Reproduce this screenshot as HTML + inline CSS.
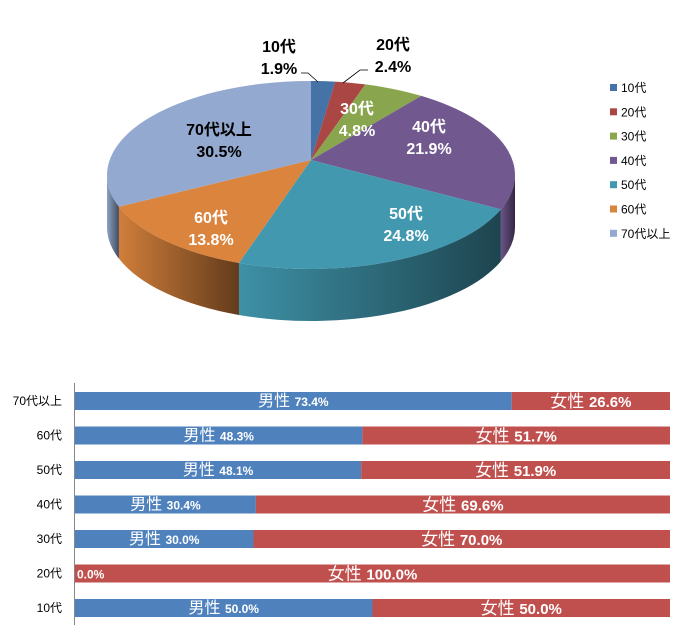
<!DOCTYPE html>
<html><head><meta charset="utf-8">
<style>
body{margin:0;background:#fff;width:688px;height:640px;overflow:hidden;font-family:"Liberation Sans","Noto Sans CJK JP",sans-serif;}
svg{position:absolute;left:0;top:0}
</style></head>
<body>
<svg id="chart" width="688" height="640" viewBox="0 0 688 640" xmlns="http://www.w3.org/2000/svg">
<defs>
<linearGradient id="sideShade" x1="0" y1="0" x2="1" y2="0">
<stop offset="0" stop-color="#000" stop-opacity="0.05"/>
<stop offset="0.5" stop-color="#000" stop-opacity="0.3"/>
<stop offset="1" stop-color="#000" stop-opacity="0.55"/>
</linearGradient>
</defs>
<g id="pie"></g>
<g id="legend"></g>
<g id="bars"></g>
</svg>
<script>
const pieCategories = ["10代","20代","30代","40代","50代","60代","70代以上"];
const pieValues = [1.9, 2.4, 4.8, 21.9, 24.8, 13.8, 30.5];
const pieColors = ["#4572A7","#AA4643","#89A54E","#71588F","#4198AF","#DB843D","#93A9CF"];

const barCategories = ["70代以上","60代","50代","40代","30代","20代","10代"];
const maleValues = [73.4, 48.3, 48.1, 30.4, 30.0, 0.0, 50.0];
const femaleValues = [26.6, 51.7, 51.9, 69.6, 70.0, 100.0, 50.0];

const NS="http://www.w3.org/2000/svg";
function mk(tag, attrs, parent){const e=document.createElementNS(NS,tag);for(const k in attrs)e.setAttribute(k,attrs[k]);parent.appendChild(e);return e;}

// ---------- pie ----------
const pie=document.getElementById('pie');
const cx=311, cy=175, rx=204, ry=94, depth=52, apexY=160;
const total=pieValues.reduce((a,b)=>a+b,0);
function pt(a,dy){return [cx+rx*Math.sin(a), cy-ry*Math.cos(a)+(dy||0)];}
let acc=0;
const slices=pieValues.map((v,i)=>{const a0=acc/total*2*Math.PI;acc+=v;const a1=acc/total*2*Math.PI;return {i,a0,a1};});
slices.forEach(s=>{
  const lo=Math.max(s.a0,Math.PI/2), hi=Math.min(s.a1,3*Math.PI/2);
  if(hi<=lo) return;
  const p0=pt(lo),p1=pt(hi),q1=pt(hi,depth),q0=pt(lo,depth);
  const d=`M${p0[0]},${p0[1]} A${rx},${ry} 0 0 1 ${p1[0]},${p1[1]} L${q1[0]},${q1[1]} A${rx},${ry} 0 0 0 ${q0[0]},${q0[1]} Z`;
  const w=mk('path',{d,fill:pieColors[s.i]},pie);
  
  
  const sh=mk('path',{d,fill:'url(#sideShade)'},pie);
  
  
});
slices.forEach(s=>{
  const p0=pt(s.a0),p1=pt(s.a1);
  const large=(s.a1-s.a0)>Math.PI?1:0;
  const el=mk('path',{d:`M${cx},${apexY} L${p0[0]},${p0[1]} A${rx},${ry} 0 ${large} 1 ${p1[0]},${p1[1]} Z`,fill:pieColors[s.i]},pie);
  
  
});
const labelPos=[[279,52,'#000'],[393,50,'#000'],[357,114,'#fff'],[429,132,'#fff'],[406,219,'#fff'],[211,223,'#fff'],[219,135,'#000']];
slices.forEach((s,k)=>{
  const [x,y,c]=labelPos[k];
  const t=mk('text',{x,y,'text-anchor':'middle','font-size':'16','font-weight':'bold',fill:c},pie);
  
  
  const t1=mk('tspan',{x,dy:0},t);t1.textContent=pieCategories[k];
  const t2=mk('tspan',{x,dy:22},t);t2.textContent=pieValues[k].toFixed(1)+'%';
});
const l1=mk('polyline',{points:"301,73 308,73 318,82",fill:'none',stroke:'#000','stroke-width':'0.8'},pie);


const l2=mk('polyline',{points:"368,70 360,70 343,83",fill:'none',stroke:'#000','stroke-width':'0.8'},pie);



const lg=document.getElementById('legend');
pieCategories.forEach((c,i)=>{
  const y=88+i*24.3;
  const r=mk('rect',{x:610,y:y-4,width:7,height:7,fill:pieColors[i]},lg);
  
  
  const t=mk('text',{x:621,y:y+4,'font-size':'12',fill:'#000'},lg);
  
  
  t.textContent=c;
});

// ---------- bars ----------
const bars=document.getElementById('bars');
const x0=75, x1=670, top0=392, pitch=34.5, bh=18;
const xs=v=>x0+(x1-x0)*v/100;
const ax=mk('line',{x1:74.5,y1:383,x2:74.5,y2:625,stroke:'#888','stroke-width':'1'},bars);


barCategories.forEach((c,i)=>{
  const y=top0+i*pitch;
  const m=maleValues[i], f=femaleValues[i];
  const lab=mk('text',{x:62,y:y+13,'text-anchor':'end','font-size':'12',fill:'#000'},bars);
  
  
  lab.textContent=c;
  const mb=mk('rect',{x:xs(0),y,width:xs(m)-xs(0),height:bh,fill:'#4F81BD'},bars);
  
  
  const fb=mk('rect',{x:xs(m),y,width:xs(m+f)-xs(m),height:bh,fill:'#C0504D'},bars);
  
  
  const mt=mk('text',{x:m>0?(xs(0)+xs(m))/2:xs(0)+2,y:y+14,'text-anchor':m>0?'middle':'start',fill:'#fff','font-weight':'bold'},bars);
  
  
  if(m>0){const a=mk('tspan',{'font-size':'16','font-weight':'normal'},mt);a.textContent='男性 ';}
  const b=mk('tspan',{'font-size':'12'},mt);b.textContent=m.toFixed(1)+'%';
  const ft=mk('text',{x:(xs(m)+xs(m+f))/2,y:y+15,'text-anchor':'middle',fill:'#fff','font-weight':'bold'},bars);
  
  
  const fa=mk('tspan',{'font-size':'17','font-weight':'normal'},ft);fa.textContent='女性 ';
  const fbt=mk('tspan',{'font-size':'15'},ft);fbt.textContent=f.toFixed(1)+'%';
});
</script>
</body></html>
